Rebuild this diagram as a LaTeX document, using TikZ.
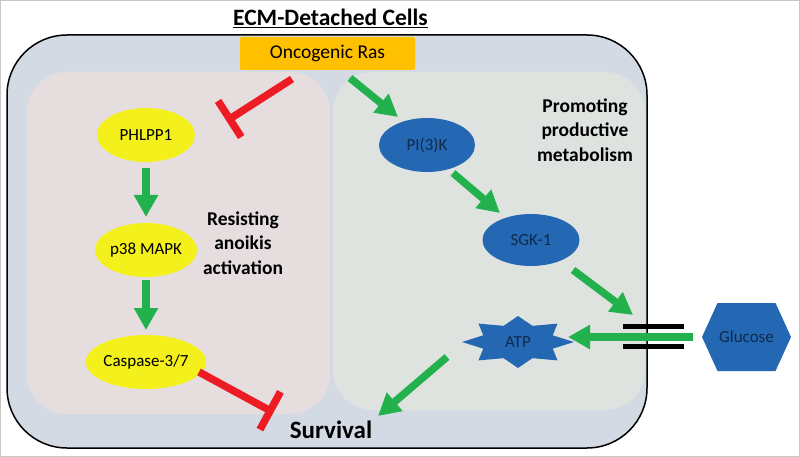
\documentclass[tikz,border=0pt]{standalone}
\usepackage{fontspec}
\setmainfont{Carlito}
\usetikzlibrary{arrows.meta,shapes.geometric}
\definecolor{cellfill}{HTML}{D4DAE4}
\definecolor{anoikisfill}{HTML}{E6DEDE}
\definecolor{metabfill}{HTML}{DEE3E0}
\definecolor{rasorange}{HTML}{FFC000}
\definecolor{protyellow}{HTML}{F4F01C}
\definecolor{protblue}{HTML}{2468B4}
\definecolor{navytext}{HTML}{102A4C}
\definecolor{actgreen}{HTML}{22B14C}
\definecolor{inhred}{HTML}{ED1C24}
\tikzset{
    yellowprot/.style={
           ellipse,
           fill=protyellow,
           minimum width=98pt,
           minimum height=54pt,
           inner sep=0pt,
           text centered,
           font=\fontsize{17}{20}\selectfont,
           },
    blueprot/.style={
           yellowprot,
           fill=protblue,
           text=navytext,
           },
    heading/.style={
           align=center,
           font=\bfseries\fontsize{19.5}{24.5}\selectfont,
           },
    act/.style={
           draw=actgreen,
           line width=7.5pt,
           -{Triangle[length=22pt,width=23pt]},
           },
    inhibit/.style={
           draw=inhred,
           line width=7.5pt,
           -{Bar[width=43pt]},
           },
}
\begin{document}
\begin{tikzpicture}[x=1pt,y=-1pt]
    \useasboundingbox (0,0) rectangle (800,457);
    \draw[gray!45] (0.5,0.5) rectangle (799.5,456.5);

    % the cell and its two halves
    \draw[fill=cellfill, draw=black, line width=1.5pt, rounded corners=60] (7,35) rectangle (647,448);
    \fill[anoikisfill, rounded corners=40] (27,72) rectangle (330,414);
    \fill[metabfill, rounded corners=40] (333,72) rectangle (645,410);

    % shapes that carry text
    \fill[protblue, shift={(518,342)}, xscale=2.15]
        (90:26) \foreach \a in {1,...,15} { -- ({90+\a*22.5}:{ifthenelse(mod(\a,2)==0,26,17.5)}) } -- cycle;
    \fill[protblue, shift={(746.5,337)}]
        (-44.5,0) -- (-29,-34) -- (29,-34) -- (44.5,0) -- (29,34) -- (-29,34) -- cycle;

    \node[font=\bfseries\fontsize{23.5}{26}\selectfont] (title) at (330.5,18) {\underline{ECM-Detached Cells}};

    \node[fill=rasorange,    	% layout
    minimum width=175pt,
    minimum height=33pt,
    rounded corners=2pt,
    font=\fontsize{19.5}{22}\selectfont] (ras)
    at (327.5,53.5) {Oncogenic Ras};

    % left side: anoikis
    \node[yellowprot] (phlpp) at (146,135) {PHLPP1};
    \node[yellowprot,
    below of=phlpp,
    node distance=115pt] (ptmapk) {p38 MAPK};
    \node[yellowprot,
    minimum width=100pt,
    below of=ptmapk,
    node distance=112pt] (caspase) {Caspase-3/7};
    \node[heading] (resisting) at (243,243) {Resisting\\anoikis\\activation};

    % right side: metabolism
    \node[blueprot, minimum width=96pt] (pik) at (427,145) {PI(3)K};
    \node[blueprot, minimum width=97pt, minimum height=52pt] (sgk) at (531,240) {SGK-1};
    \node[text=navytext, font=\fontsize{17}{20}\selectfont] (atp) at (518,342) {ATP};
    \node[text=navytext, font=\fontsize{17}{20}\selectfont] (glucose) at (746.5,337) {Glucose};
    \node[heading] (promoting) at (585,130) {Promoting\\productive\\metabolism};

    \node[inner sep=0pt, font=\bfseries\fontsize{25}{28}\selectfont] (survival) at (331,430) {Survival};

    % membrane
    \draw[line width=5pt] (623,326.5) -- (684,326.5);
    \draw[line width=5pt] (623,346.5) -- (684,346.5);
    \coordinate (gate) at (633,315);
    \coordinate (phlppblock) at (226.5,121);
    \coordinate (survblock) at (273.5,412.5);

    % connectors
    \draw[act] ([shift={(0,33)}]phlpp.center) -- ([shift={(0,-33)}]ptmapk.center);
    \draw[act] ([shift={(0,30)}]ptmapk.center) -- ([shift={(0,-32)}]caspase.center);
    \draw[act] ([shift={(22.5,24.5)}]ras.center) -- ([shift={(-29,-28)}]pik.center);
    \draw[act] ([shift={(26,28)}]pik.center) -- ([shift={(-31,-27)}]sgk.center);
    \draw[act] ([shift={(42,30)}]sgk.center) -- (gate);
    \draw[act] ([shift={(-53.5,0)}]glucose.center) -- ([shift={(50,-5)}]atp.center);
    \draw[act] ([shift={(-71,15)}]atp.center) -- ([shift={(47,-14)}]survival.center);
    \draw[inhibit] ([shift={(-35.5,25.5)}]ras.center) -- (phlppblock);
    \draw[inhibit] ([shift={(53,10)}]caspase.center) -- (survblock);
\end{tikzpicture}
\end{document}
